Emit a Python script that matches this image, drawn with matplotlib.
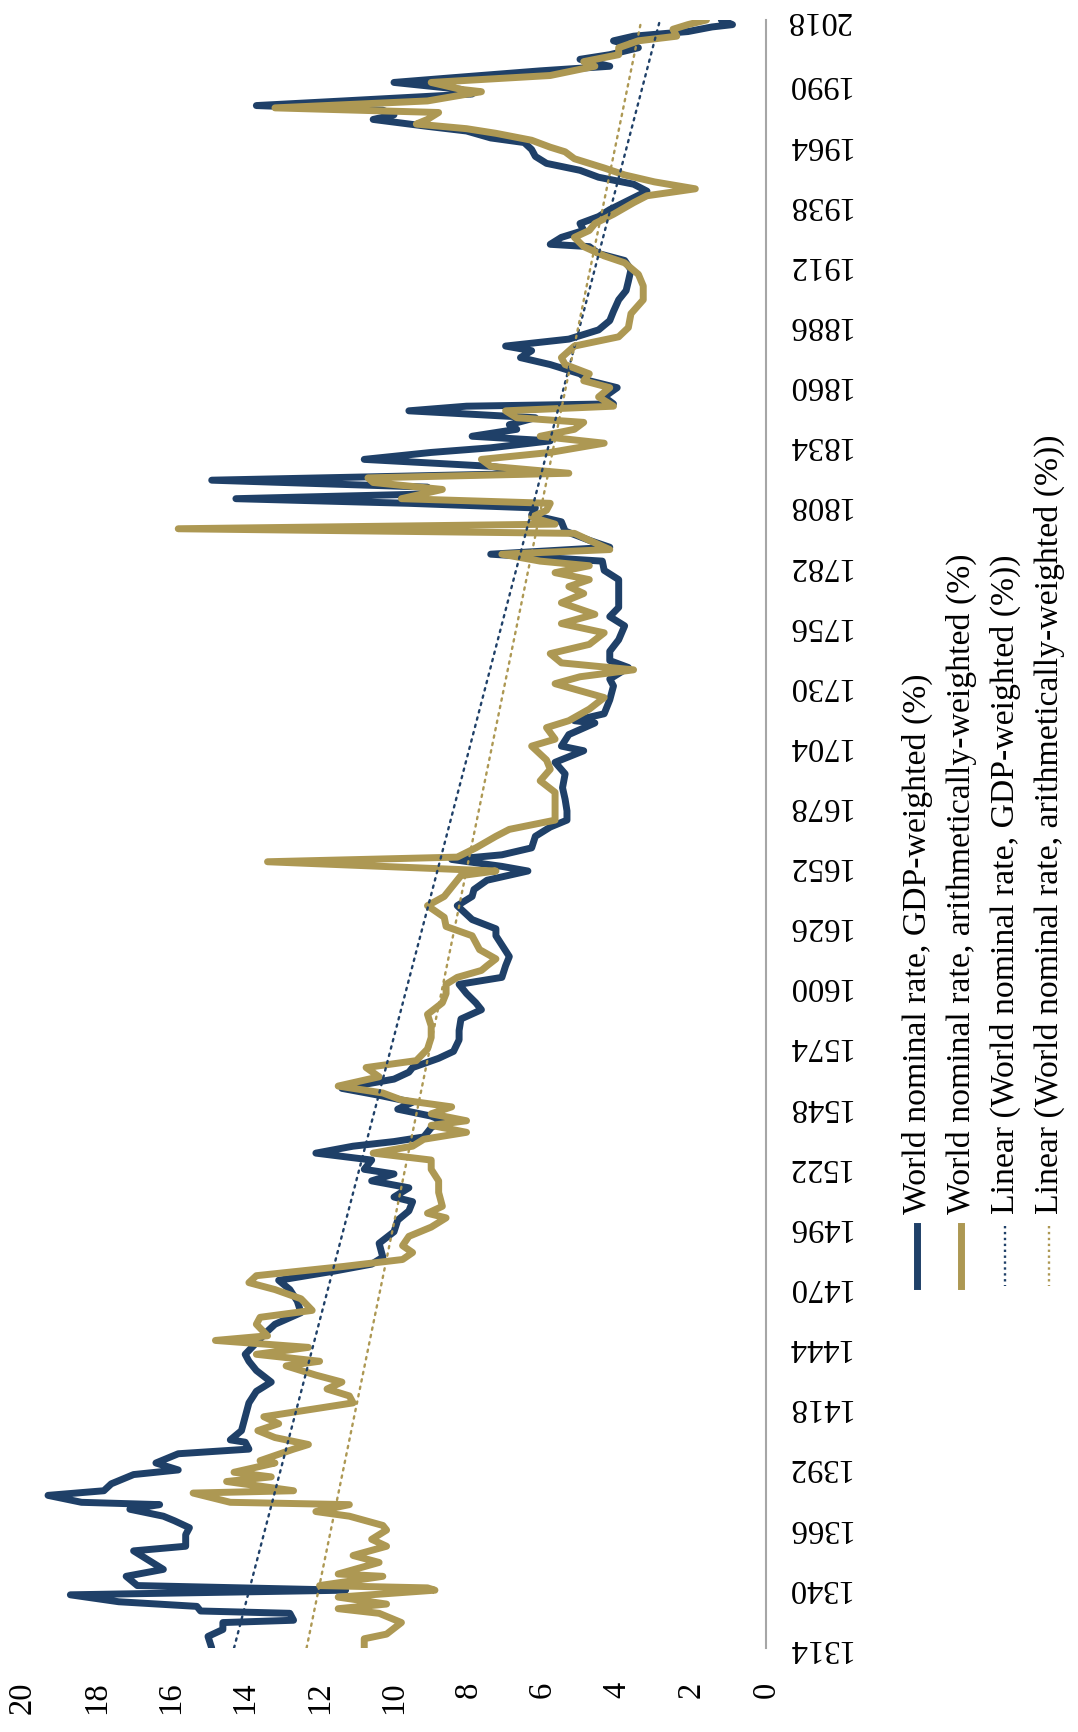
import matplotlib.pyplot as plt
from matplotlib.lines import Line2D

# World nominal rate, GDP-weighted (%)
gdp_years = [1314, 1319, 1322, 1325, 1326, 1329, 1330, 1332, 1334, 1337, 1339, 1341, 1345, 1348,
             1352, 1356, 1358, 1363, 1366, 1369, 1371, 1374, 1376, 1377, 1380, 1382, 1385, 1389,
             1391, 1394, 1398, 1400, 1403, 1404, 1408, 1414, 1420, 1425, 1429, 1434, 1438, 1441,
             1446, 1451, 1454, 1459, 1464, 1469, 1473, 1477, 1480, 1483, 1489, 1494, 1499, 1503,
             1507, 1509, 1513, 1516, 1519, 1521, 1525, 1528, 1531, 1533, 1535, 1539, 1542, 1544,
             1547, 1550, 1553, 1556, 1560, 1563, 1565, 1569, 1572, 1577, 1581, 1586, 1590, 1593,
             1597, 1601, 1604, 1609, 1613, 1617, 1622, 1625, 1629, 1632, 1635, 1639, 1642, 1646,
             1650, 1652, 1655, 1657, 1660, 1665, 1669, 1672, 1676, 1681, 1686, 1692, 1697, 1702,
             1704, 1709, 1714, 1715, 1718, 1724, 1730, 1733, 1738, 1741, 1745, 1750, 1756, 1760,
             1764, 1769, 1776, 1780, 1784, 1787, 1790, 1793, 1797, 1801, 1804, 1807, 1809, 1811,
             1813, 1816, 1819, 1822, 1825, 1828, 1831, 1833, 1836, 1838, 1841, 1843, 1846, 1849,
             1851, 1852, 1855, 1859, 1862, 1865, 1869, 1872, 1875, 1877, 1880, 1884, 1888, 1892,
             1897, 1901, 1905, 1910, 1914, 1917, 1920, 1921, 1924, 1927, 1930, 1933, 1936, 1940,
             1944, 1947, 1950, 1953, 1956, 1959, 1962, 1965, 1967, 1970, 1972, 1975, 1977, 1979,
             1981, 1983, 1986, 1988, 1991, 1993, 1996, 1998, 2001, 2003, 2006, 2009, 2011, 2013,
             2015, 2016, 2018]
gdp_rate = [14.9, 15.0, 14.6, 14.6, 12.7, 12.8, 15.2, 15.3, 17.4, 18.7, 11.3, 16.9, 17.2, 16.2,
            16.6, 17.0, 15.6, 15.6, 15.5, 15.9, 16.2, 17.1, 16.3, 18.4, 19.3, 17.8, 17.6, 17.0,
            15.8, 16.4, 15.8, 13.9, 14.0, 14.4, 14.1, 14.0, 13.9, 13.7, 13.3, 13.7, 13.9, 14.0,
            13.7, 13.4, 13.2, 12.5, 12.6, 12.8, 13.1, 11.6, 10.6, 10.3, 10.4, 10.0, 9.9, 9.6,
            9.5, 10.0, 9.6, 10.6, 10.0, 10.8, 10.6, 12.1, 11.1, 10.0, 9.2, 9.0, 8.7, 9.0,
            9.9, 9.5, 10.4, 11.4, 10.0, 9.6, 9.5, 8.8, 8.4, 8.25, 8.25, 8.2, 7.65, 7.8,
            8.05, 8.25, 7.1, 7.0, 6.9, 7.06, 7.26, 7.26, 7.9, 8.1, 8.3, 7.9, 7.85, 7.5,
            6.4, 7.1, 8.45, 7.1, 6.3, 6.2, 5.8, 5.35, 5.35, 5.4, 5.47, 5.4, 5.67, 4.9,
            5.5, 5.3, 4.6, 5.15, 4.35, 4.2, 4.1, 4.2, 3.7, 4.2, 4.2, 3.96, 3.8, 4.2,
            3.96, 3.96, 3.96, 4.35, 4.4, 7.4, 4.2, 4.75, 5.4, 5.5, 6.3, 6.2, 9.6, 14.25,
            9.2, 9.1, 14.9, 6.07, 7.4, 10.8, 9.0, 7.4, 5.8, 7.9, 6.7, 6.9, 6.2, 9.6,
            8.05, 4.1, 4.35, 4.0, 4.75, 5.0, 5.8, 6.6, 6.3, 7.0, 5.3, 4.5, 4.2, 4.1,
            3.96, 3.76, 3.7, 3.63, 3.8, 4.5, 4.75, 5.8, 5.5, 4.9, 5.0, 4.5, 4.2, 3.7,
            3.2, 3.56, 4.5, 5.0, 5.9, 6.2, 6.3, 6.5, 7.4, 8.05, 9.1, 10.56, 10.0, 10.3,
            13.7, 11.35, 7.9, 8.2, 10.0, 8.45, 6.07, 4.2, 5.0, 4.2, 3.43, 4.1, 3.56, 2.1,
            1.45, 0.9, 1.2]

# World nominal rate, arithmetically-weighted (%)
arith_years = [1314, 1318, 1320, 1325, 1329, 1331, 1333, 1336, 1339, 1340, 1341, 1345, 1346, 1351,
               1354, 1358, 1361, 1365, 1367, 1371, 1373, 1376, 1377, 1381, 1382, 1386, 1388, 1390,
               1394, 1395, 1400, 1402, 1405, 1408, 1411, 1414, 1420, 1423, 1426, 1429, 1432, 1436,
               1438, 1441, 1444, 1447, 1449, 1454, 1457, 1460, 1465, 1469, 1472, 1475, 1479, 1482,
               1485, 1488, 1492, 1496, 1500, 1502, 1505, 1511, 1516, 1521, 1525, 1528, 1531, 1534,
               1537, 1540, 1542, 1545, 1548, 1551, 1554, 1557, 1561, 1565, 1568, 1573, 1578, 1583,
               1588, 1593, 1597, 1601, 1604, 1607, 1609, 1612, 1616, 1622, 1626, 1630, 1635, 1639,
               1643, 1648, 1650, 1654, 1656, 1660, 1665, 1668, 1672, 1678, 1684, 1689, 1694, 1698,
               1704, 1707, 1712, 1715, 1720, 1725, 1731, 1734, 1737, 1740, 1744, 1748, 1753, 1757,
               1761, 1766, 1770, 1773, 1776, 1779, 1782, 1784, 1787, 1789, 1793, 1796, 1798, 1800,
               1803, 1806, 1809, 1811, 1815, 1818, 1820, 1822, 1825, 1828, 1831, 1835, 1838, 1841,
               1844, 1846, 1849, 1851, 1855, 1859, 1862, 1865, 1869, 1872, 1877, 1881, 1885, 1891,
               1897, 1903, 1908, 1913, 1916, 1920, 1924, 1927, 1930, 1934, 1939, 1942, 1945, 1948,
               1951, 1954, 1958, 1961, 1963, 1966, 1969, 1971, 1973, 1975, 1978, 1980, 1983, 1987,
               1988, 1991, 1994, 1998, 2000, 2003, 2006, 2009, 2011, 2014, 2016, 2018]
arith_rate = [10.8, 10.8, 10.2, 9.8, 10.4, 11.5, 10.2, 11.5, 8.9, 9.1, 12.0, 10.3, 11.5, 10.4,
              11.1, 10.2, 10.6, 10.2, 10.3, 11.2, 12.1, 11.2, 14.4, 15.4, 12.7, 14.5, 13.3, 14.3,
              13.2, 13.6, 12.7, 12.3, 13.2, 13.66, 13.1, 13.5, 11.1, 11.2, 11.8, 11.4, 12.1, 12.9,
              12.0, 13.7, 12.3, 14.8, 13.4, 13.7, 13.6, 12.2, 12.5, 13.2, 13.9, 13.7, 11.35, 9.77,
              9.5, 9.77, 9.6, 9.0, 8.6, 9.1, 8.7, 8.8, 8.8, 9.0, 9.0, 10.56, 9.5, 9.2,
              8.05, 9.0, 8.05, 9.0, 8.45, 9.8, 10.3, 11.5, 10.4, 10.75, 9.4, 9.1, 9.0, 9.0,
              9.1, 8.7, 8.6, 8.6, 8.3, 7.65, 7.5, 7.26, 7.7, 7.9, 8.6, 8.65, 9.1, 8.65,
              8.45, 8.2, 7.26, 13.4, 8.3, 7.8, 7.26, 6.9, 5.67, 5.67, 5.67, 6.07, 5.8, 5.9,
              6.3, 5.67, 5.9, 5.3, 4.75, 4.35, 5.67, 5.0, 3.56, 5.5, 5.8, 4.75, 4.35, 5.5,
              4.6, 5.5, 4.9, 5.3, 4.75, 5.67, 4.75, 6.07, 7.1, 4.2, 4.75, 5.15, 15.8, 5.67,
              6.3, 5.9, 5.8, 9.8, 8.7, 10.56, 10.7, 5.3, 7.4, 7.65, 5.8, 4.35, 6.07, 5.15,
              4.9, 6.7, 7.0, 4.1, 4.5, 4.2, 4.9, 4.75, 5.4, 5.5, 5.15, 3.96, 3.7, 3.63,
              3.3, 3.3, 3.43, 3.8, 4.35, 4.9, 5.15, 4.75, 4.6, 4.1, 3.56, 3.2, 1.9, 3.0,
              3.8, 4.35, 5.15, 5.4, 5.8, 6.3, 7.26, 8.05, 9.4, 9.1, 8.8, 13.2, 9.1, 7.65,
              8.2, 9.0, 5.8, 4.6, 4.9, 3.96, 3.96, 3.43, 2.4, 2.5, 2.1, 1.6]

# linear trend lines (start/end values)
trend_years = [1314, 2018]
gdp_trend = [14.3, 2.85]
arith_trend = [12.35, 3.35]

year_ticks = [1314, 1340, 1366, 1392, 1418, 1444, 1470, 1496, 1522, 1548, 1574, 1600, 1626,
              1652, 1678, 1704, 1730, 1756, 1782, 1808, 1834, 1860, 1886, 1912, 1938, 1964,
              1990, 2018]
value_ticks = [0, 2, 4, 6, 8, 10, 12, 14, 16, 18, 20]

labels = ["World nominal rate, GDP-weighted (%)",
          "World nominal rate, arithmetically-weighted (%)",
          "Linear (World nominal rate, GDP-weighted (%))",
          "Linear (World nominal rate, arithmetically-weighted (%))"]

blue = "#1F4068"
gold = "#AD9853"
font = ["Liberation Serif", "DejaVu Serif"]
fs = 23.5
fs_legend = 24.3
lw_series = 5.0

plt.rcParams["font.family"] = font

W, H = 1078, 1732
fig = plt.figure(figsize=(W / 100, H / 100), dpi=100)

# chart is drawn rotated: years run bottom->top, rate runs right->left
ax = fig.add_axes([22 / W, 1 - 1648 / H, (766 - 22) / W, (1648 - 20) / H])
ax.plot(gdp_rate, gdp_years, color=blue, lw=lw_series, solid_joinstyle="round", solid_capstyle="round")
ax.plot(arith_rate, arith_years, color=gold, lw=lw_series, solid_joinstyle="round", solid_capstyle="round")
ax.plot(gdp_trend, trend_years, color=blue, lw=1.7, linestyle=(0, (1, 2.2)), dash_capstyle="round")
ax.plot(arith_trend, trend_years, color=gold, lw=1.7, linestyle=(0, (1, 2.2)), dash_capstyle="round")

ax.set_xlim(20, 0)
ax.set_ylim(1314, 2018)
for s in ["top", "bottom", "left"]:
    ax.spines[s].set_visible(False)
ax.spines["right"].set_color("#A6A6A6")
ax.spines["right"].set_linewidth(1.5)

ax.set_xticks(value_ticks)
ax.set_xticklabels([str(v) for v in value_ticks], rotation=90, fontsize=fs)
ax.tick_params(axis="x", length=0, pad=24)

ax.yaxis.tick_right()
ax.set_yticks(year_ticks)
ax.set_yticklabels([str(y) for y in year_ticks], rotation=180, fontsize=fs, va="center")
ax.tick_params(axis="y", length=0, pad=14)

# legend, drawn rotated in pixel coordinates
lg = fig.add_axes([0, 0, 1, 1])
lg.set_xlim(0, W)
lg.set_ylim(H, 0)
lg.axis("off")
styles = [(blue, lw_series, "-"), (gold, lw_series, "-"),
          (blue, 1.7, (0, (1, 1.5))), (gold, 1.7, (0, (1, 1.5)))]
for i, (lab, (c, lw, ls)) in enumerate(zip(labels, styles)):
    x = 917 + 44 * i
    lg.add_line(Line2D([x, x], [1226, 1286], color=c, lw=lw, linestyle=ls))
    lg.text(x, 1214, lab, rotation=90, ha="center", va="bottom", fontsize=fs_legend, color="#000000")

plt.savefig("out.png", dpi=100)
